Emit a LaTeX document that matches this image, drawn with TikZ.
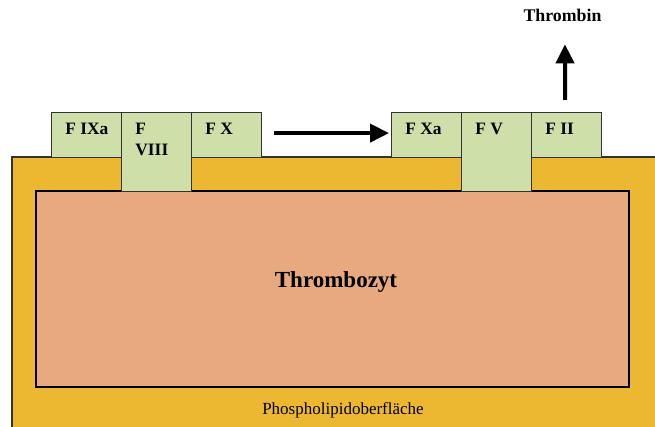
\documentclass[tikz,border=0pt]{standalone}
\usepackage{fontspec}
\setmainfont{Liberation Serif}
\usetikzlibrary{arrows.meta}

\definecolor{plateyellow}{HTML}{EDB831}
\definecolor{cellsalmon}{HTML}{E8A97E}
\definecolor{factorgreen}{HTML}{CFDFAA}
\definecolor{edgegray}{HTML}{333333}

\begin{document}
\begin{tikzpicture}[x=0.5pt, y=-0.5pt,
    factor/.style={draw=edgegray, line width=0.6pt, fill=factorgreen,
      anchor=north west, inner sep=0pt, minimum width=35pt, minimum height=22.5pt},
    factortall/.style={factor, minimum height=39.5pt},
    flabel/.style={anchor=north west, inner sep=0pt, align=left,
      font=\bfseries\fontsize{8.7}{10.5}\selectfont, xshift=7pt, yshift=-5.5pt},
    bigarrow/.style={line width=2pt, -{Triangle[length=9.5pt, width=9pt]}}]

    % Frame of the picture
    \clip (0,0) rectangle (655,427);

    % Phospholipid surface and platelet
    \fill[plateyellow, draw=edgegray, line width=0.7pt] (12,157) rectangle (680,450);
    \fill[cellsalmon, draw=black, line width=0.9pt] (36,191) rectangle (629,387);
    \node[font=\bfseries\fontsize{11.5}{13}\selectfont] (thr) at (336,282) {Thrombozyt};
    \node[font=\fontsize{8.5}{10}\selectfont] (pl) at (343,410) {Phospholipidoberfläche};

    % Tenase complex
    \node[factor]     (fixa)  at (51,112)  {};
    \node[factortall] (fviii) at (121,112) {};
    \node[factor]     (fx)    at (191,112) {};
    \node[flabel] at (fixa.north west)  {F IXa};
    \node[flabel] at (fviii.north west) {F\\VIII};
    \node[flabel] at (fx.north west)    {F X};

    % Prothrombinase complex
    \node[factor]     (fxa)  at (391,112) {};
    \node[factortall] (fv)   at (461,112) {};
    \node[factor]     (fii)  at (531,112) {};
    \node[flabel] at (fxa.north west) {F Xa};
    \node[flabel] at (fv.north west)  {F V};
    \node[flabel] at (fii.north west) {F II};

    % Product
    \node[font=\bfseries\fontsize{8.9}{10}\selectfont] (thrombin) at (562.5,15) {Thrombin};

    % Arrows
    \draw[bigarrow, shorten <=6pt, shorten >=1pt] ([yshift=1pt]fx.east) -- ([yshift=1pt]fxa.west);
    \draw[bigarrow, shorten <=6pt, shorten >=8pt] ([xshift=-0.7pt]fii.north) -- ([xshift=1.2pt]thrombin.south);

\end{tikzpicture}
\end{document}
